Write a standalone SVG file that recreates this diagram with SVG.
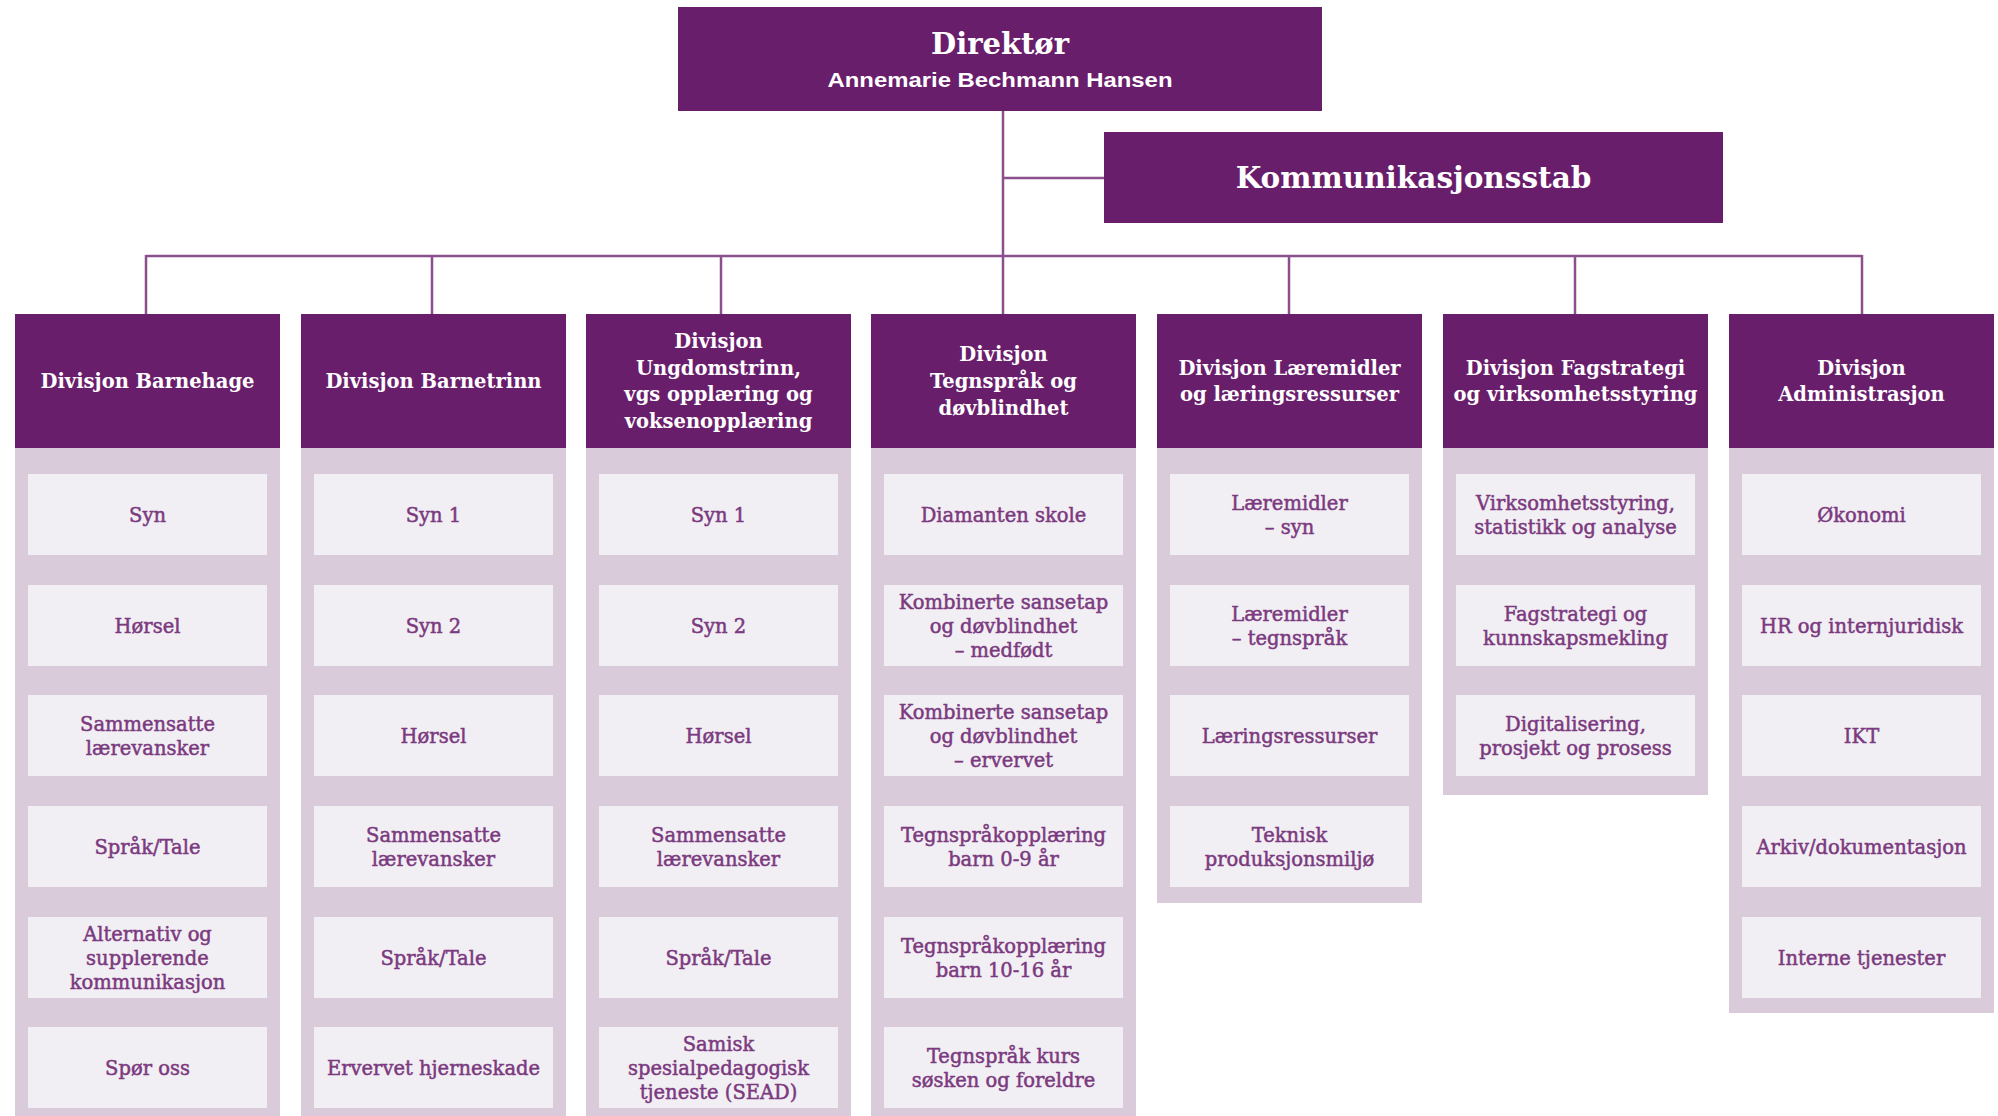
<svg xmlns="http://www.w3.org/2000/svg" width="1998" height="1116" viewBox="0 0 1998 1116">
<style>
.box{fill:#691e6c}
.panel{fill:#dacbdb}
.item{fill:#f2eff4}
.ht{font-family:"DejaVu Serif","Liberation Serif",serif;font-weight:bold;font-size:19.5px;fill:#ffffff;text-anchor:middle}
.it{font-family:"DejaVu Serif","Liberation Serif",serif;font-size:19.5px;fill:#7b3a7f;stroke:#7b3a7f;stroke-width:0.5px;text-anchor:middle}
.big{font-family:"DejaVu Serif","Liberation Serif",serif;font-weight:bold;font-size:29px;fill:#ffffff;text-anchor:middle}
.big2{font-family:"DejaVu Serif","Liberation Serif",serif;font-weight:bold;font-size:29.5px;fill:#ffffff;text-anchor:middle}
.sub{font-family:"Liberation Sans",Arial,sans-serif;font-weight:bold;font-size:21px;fill:#ffffff;text-anchor:middle}
.conn{stroke:#8c4f8e;stroke-width:2.5;fill:none}
</style>
<rect width="1998" height="1116" fill="#ffffff"/>
<g id="connectors">
<path class="conn" d="M1003 110 V314"/>
<path class="conn" d="M1003 178 H1104"/>
<path class="conn" d="M146 256 H1862"/>
<path class="conn" d="M146 255 V314"/>
<path class="conn" d="M432 256 V314"/>
<path class="conn" d="M721 256 V314"/>
<path class="conn" d="M1289 256 V314"/>
<path class="conn" d="M1575 256 V314"/>
<path class="conn" d="M1862 255 V314"/>
</g>
<g id="direktor">
<rect class="box" x="678" y="7" width="644" height="104"/>
<text class="big" x="1000" y="54">Direktør</text>
<text class="sub" x="1000" y="87" textLength="345" lengthAdjust="spacingAndGlyphs">Annemarie Bechmann Hansen</text>
</g>
<g id="kommunikasjonsstab">
<rect class="box" x="1104" y="132" width="619" height="91"/>
<text class="big2" x="1413.5" y="188">Kommunikasjonsstab</text>
</g>

<g id="div-barnehage">
<rect class="panel" x="15" y="440" width="265" height="676"/>
<rect class="box" x="15" y="314" width="265" height="134"/>
<text class="ht" x="147.5" y="388">Divisjon Barnehage</text>
<g id="bh-1"><rect class="item" x="28" y="474" width="239" height="81"/><text class="it" x="147.5" y="521.5">Syn</text></g>
<g id="bh-2"><rect class="item" x="28" y="585" width="239" height="81"/><text class="it" x="147.5" y="632.5">Hørsel</text></g>
<g id="bh-3"><rect class="item" x="28" y="695" width="239" height="81"/><text class="it" x="147.5" y="730.5">Sammensatte</text><text class="it" x="147.5" y="754.5">lærevansker</text></g>
<g id="bh-4"><rect class="item" x="28" y="806" width="239" height="81"/><text class="it" x="147.5" y="853.5">Språk/Tale</text></g>
<g id="bh-5"><rect class="item" x="28" y="917" width="239" height="81"/><text class="it" x="147.5" y="940.5">Alternativ og</text><text class="it" x="147.5" y="964.5">supplerende</text><text class="it" x="147.5" y="988.5">kommunikasjon</text></g>
<g id="bh-6"><rect class="item" x="28" y="1027" width="239" height="81"/><text class="it" x="147.5" y="1074.5">Spør oss</text></g>
</g>

<g id="div-barnetrinn">
<rect class="panel" x="301" y="440" width="265" height="676"/>
<rect class="box" x="301" y="314" width="265" height="134"/>
<text class="ht" x="433.5" y="388">Divisjon Barnetrinn</text>
<g id="bt-1"><rect class="item" x="314" y="474" width="239" height="81"/><text class="it" x="433.5" y="521.5">Syn 1</text></g>
<g id="bt-2"><rect class="item" x="314" y="585" width="239" height="81"/><text class="it" x="433.5" y="632.5">Syn 2</text></g>
<g id="bt-3"><rect class="item" x="314" y="695" width="239" height="81"/><text class="it" x="433.5" y="742.5">Hørsel</text></g>
<g id="bt-4"><rect class="item" x="314" y="806" width="239" height="81"/><text class="it" x="433.5" y="841.5">Sammensatte</text><text class="it" x="433.5" y="865.5">lærevansker</text></g>
<g id="bt-5"><rect class="item" x="314" y="917" width="239" height="81"/><text class="it" x="433.5" y="964.5">Språk/Tale</text></g>
<g id="bt-6"><rect class="item" x="314" y="1027" width="239" height="81"/><text class="it" x="433.5" y="1074.5">Ervervet hjerneskade</text></g>
</g>

<g id="div-ungdomstrinn">
<rect class="panel" x="586" y="440" width="265" height="676"/>
<rect class="box" x="586" y="314" width="265" height="134"/>
<text class="ht" x="718.5" y="348">Divisjon</text>
<text class="ht" x="718.5" y="374.7">Ungdomstrinn,</text>
<text class="ht" x="718.5" y="401.4">vgs opplæring og</text>
<text class="ht" x="718.5" y="428">voksenopplæring</text>
<g id="ut-1"><rect class="item" x="599" y="474" width="239" height="81"/><text class="it" x="718.5" y="521.5">Syn 1</text></g>
<g id="ut-2"><rect class="item" x="599" y="585" width="239" height="81"/><text class="it" x="718.5" y="632.5">Syn 2</text></g>
<g id="ut-3"><rect class="item" x="599" y="695" width="239" height="81"/><text class="it" x="718.5" y="742.5">Hørsel</text></g>
<g id="ut-4"><rect class="item" x="599" y="806" width="239" height="81"/><text class="it" x="718.5" y="841.5">Sammensatte</text><text class="it" x="718.5" y="865.5">lærevansker</text></g>
<g id="ut-5"><rect class="item" x="599" y="917" width="239" height="81"/><text class="it" x="718.5" y="964.5">Språk/Tale</text></g>
<g id="ut-6"><rect class="item" x="599" y="1027" width="239" height="81"/><text class="it" x="718.5" y="1050.5">Samisk</text><text class="it" x="718.5" y="1074.5">spesialpedagogisk</text><text class="it" x="718.5" y="1098.5">tjeneste (SEAD)</text></g>
</g>

<g id="div-tegnsprak">
<rect class="panel" x="871" y="440" width="265" height="676"/>
<rect class="box" x="871" y="314" width="265" height="134"/>
<text class="ht" x="1003.5" y="361.3">Divisjon</text>
<text class="ht" x="1003.5" y="388">Tegnspråk og</text>
<text class="ht" x="1003.5" y="414.7">døvblindhet</text>
<g id="ts-1"><rect class="item" x="884" y="474" width="239" height="81"/><text class="it" x="1003.5" y="521.5">Diamanten skole</text></g>
<g id="ts-2"><rect class="item" x="884" y="585" width="239" height="81"/><text class="it" x="1003.5" y="608.5">Kombinerte sansetap</text><text class="it" x="1003.5" y="632.5">og døvblindhet</text><text class="it" x="1003.5" y="656.5">– medfødt</text></g>
<g id="ts-3"><rect class="item" x="884" y="695" width="239" height="81"/><text class="it" x="1003.5" y="718.5">Kombinerte sansetap</text><text class="it" x="1003.5" y="742.5">og døvblindhet</text><text class="it" x="1003.5" y="766.5">– ervervet</text></g>
<g id="ts-4"><rect class="item" x="884" y="806" width="239" height="81"/><text class="it" x="1003.5" y="841.5">Tegnspråkopplæring</text><text class="it" x="1003.5" y="865.5">barn 0-9 år</text></g>
<g id="ts-5"><rect class="item" x="884" y="917" width="239" height="81"/><text class="it" x="1003.5" y="952.5">Tegnspråkopplæring</text><text class="it" x="1003.5" y="976.5">barn 10-16 år</text></g>
<g id="ts-6"><rect class="item" x="884" y="1027" width="239" height="81"/><text class="it" x="1003.5" y="1062.5">Tegnspråk kurs</text><text class="it" x="1003.5" y="1086.5">søsken og foreldre</text></g>
</g>

<g id="div-laremidler">
<rect class="panel" x="1157" y="440" width="265" height="463"/>
<rect class="box" x="1157" y="314" width="265" height="134"/>
<text class="ht" x="1289.5" y="374.6">Divisjon Læremidler</text>
<text class="ht" x="1289.5" y="401.3">og læringsressurser</text>
<g id="lm-1"><rect class="item" x="1170" y="474" width="239" height="81"/><text class="it" x="1289.5" y="509.5">Læremidler</text><text class="it" x="1289.5" y="533.5">– syn</text></g>
<g id="lm-2"><rect class="item" x="1170" y="585" width="239" height="81"/><text class="it" x="1289.5" y="620.5">Læremidler</text><text class="it" x="1289.5" y="644.5">– tegnspråk</text></g>
<g id="lm-3"><rect class="item" x="1170" y="695" width="239" height="81"/><text class="it" x="1289.5" y="742.5">Læringsressurser</text></g>
<g id="lm-4"><rect class="item" x="1170" y="806" width="239" height="81"/><text class="it" x="1289.5" y="841.5">Teknisk</text><text class="it" x="1289.5" y="865.5">produksjonsmiljø</text></g>
</g>

<g id="div-fagstrategi">
<rect class="panel" x="1443" y="440" width="265" height="355"/>
<rect class="box" x="1443" y="314" width="265" height="134"/>
<text class="ht" x="1575.5" y="374.6">Divisjon Fagstrategi</text>
<text class="ht" x="1575.5" y="401.3">og virksomhetsstyring</text>
<g id="fs-1"><rect class="item" x="1456" y="474" width="239" height="81"/><text class="it" x="1575.5" y="509.5">Virksomhetsstyring,</text><text class="it" x="1575.5" y="533.5">statistikk og analyse</text></g>
<g id="fs-2"><rect class="item" x="1456" y="585" width="239" height="81"/><text class="it" x="1575.5" y="620.5">Fagstrategi og</text><text class="it" x="1575.5" y="644.5">kunnskapsmekling</text></g>
<g id="fs-3"><rect class="item" x="1456" y="695" width="239" height="81"/><text class="it" x="1575.5" y="730.5">Digitalisering,</text><text class="it" x="1575.5" y="754.5">prosjekt og prosess</text></g>
</g>

<g id="div-administrasjon">
<rect class="panel" x="1729" y="440" width="265" height="573"/>
<rect class="box" x="1729" y="314" width="265" height="134"/>
<text class="ht" x="1861.5" y="374.6">Divisjon</text>
<text class="ht" x="1861.5" y="401.3">Administrasjon</text>
<g id="ad-1"><rect class="item" x="1742" y="474" width="239" height="81"/><text class="it" x="1861.5" y="521.5">Økonomi</text></g>
<g id="ad-2"><rect class="item" x="1742" y="585" width="239" height="81"/><text class="it" x="1861.5" y="632.5">HR og internjuridisk</text></g>
<g id="ad-3"><rect class="item" x="1742" y="695" width="239" height="81"/><text class="it" x="1861.5" y="742.5">IKT</text></g>
<g id="ad-4"><rect class="item" x="1742" y="806" width="239" height="81"/><text class="it" x="1861.5" y="853.5">Arkiv/dokumentasjon</text></g>
<g id="ad-5"><rect class="item" x="1742" y="917" width="239" height="81"/><text class="it" x="1861.5" y="964.5">Interne tjenester</text></g>
</g>
</svg>
